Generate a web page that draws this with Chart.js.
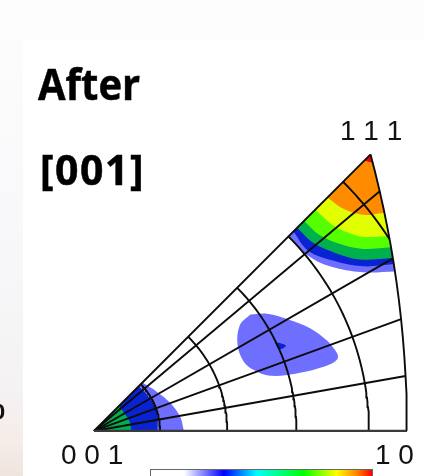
<!DOCTYPE html>
<html>
<head>
<meta charset="utf-8">
<script src="https://cdn.jsdelivr.net/npm/chart.js@4"></script>
<style>
  html, body { margin: 0; padding: 0; background: #fff; }
  #page { position: relative; width: 425px; height: 476px; overflow: hidden; background: #fff; }
  #topStrip { position: absolute; left: 0; top: 0; width: 425px; height: 40px; background: #fdfdfe; }
  #leftStrip { position: absolute; left: 0; top: 40px; width: 23px; height: 436px;
    background: linear-gradient(to bottom, #fcfcfd 0%, #f8f8fa 45%, #f4f2f3 80%, #f6ece8 92%, #efe4de 100%); }
  canvas { position: absolute; left: 0; top: 0; }
  .title { position: absolute; font: bold 43px "Open Sans", sans-serif; color: #000; line-height: 1; white-space: nowrap; -webkit-text-stroke: 0.5px #000; }
  .pole { position: absolute; font: 28px "Liberation Sans", sans-serif; color: #111; line-height: 1; white-space: pre; }
  #colorbar { position: absolute; left: 150px; top: 469px; width: 221px; height: 12px; border: 1px solid #666; }
</style>
</head>
<body>
<div id="page">
  <div id="topStrip"></div>
  <div id="leftStrip"></div>
  <canvas id="chart" width="425" height="476"></canvas>
  <div class="title" style="left:38px;top:62px;transform:scaleX(0.93);transform-origin:left">After</div>
  <div class="title" style="left:40px;top:149px;font-size:41px;letter-spacing:1.5px">[001]</div>
  <div class="pole" style="left:340px;top:117px">1 1 1</div>
  <div class="pole" style="left:61px;top:441px">0 0 1</div>
  <div class="pole" style="left:375px;top:441px">1 0</div>
  <div class="pole" style="left:-7px;top:397px;font:bold 21px 'Open Sans',sans-serif">0</div>
  <div id="colorbar"></div>
</div>
<script>
  // stereographic coordinates x 1000, [001] at the origin
  const apex = [366, 366];
  const pole101 = 414;

  const azimuthLines = [10, 20, 30, 40];
  const polarArcs = [10, 20, 30, 40, 50];

  // upper band edges, from the 45 degree side to the curved side
  const lightBlueTop = [[258, 258], [282, 233], [312, 218], [356, 210], [398, 211]];
  const blueTop = [[264, 264], [283, 239], [315, 226], [356, 218], [397, 221]];
  const greenTop = [[269, 269], [290, 249], [321, 235], [352, 227], [396, 229]];
  const limeTop = [[278, 278], [299, 259], [330, 246], [356, 241], [393, 243]];
  const yellowTop = [[293, 293], [315, 273], [335, 263], [356, 257], [391, 258]];
  const orangeTop = [[309, 309], [328, 295], [350, 287], [365, 286], [385, 289]];
  const redTop = [[358, 358], [369, 355]];

  // patches around 001
  const lightBlueCorner = [[64, 64], [83, 52], [101, 37], [114, 19], [119, 0]];
  const blueCorner = [[59, 59], [70, 48], [83, 26], [84, 0]];
  const greenCorner = [[33, 33], [42, 21], [48, 10], [49, 0]];

  // middle patch
  const lightBlueMiddle = [[207, 154], [229, 155], [259, 147], [286, 136], [308, 120], [319, 107], [323, 98], [319, 92],
    [304, 85], [273, 77], [233, 73], [211, 81], [198, 92], [190, 114], [193, 140]];
  const blueMiddle = [[239, 118], [254, 113], [245, 108]];

  const bandColors = {
    lightBlue: "#6e6eff",
    blue: "#0a23d2",
    green: "#00b04c",
    lime: "#55ff00",
    yellow: "#e1ff00",
    orange: "#ff8c00",
    red: "#f00000"
  };
  const barStops = [["#ffffff", 15], ["#0000ff", 33], ["#00ffff", 48], ["#00ff00", 69], ["#ffff00", 84], ["#ff8800", 93], ["#ff0000", 100]];

  document.getElementById("colorbar").style.background =
    `linear-gradient(to right, ${barStops.map(s => `${s[0]} ${s[1]}%`).join(", ")})`;

  const pts = list => list.map(p => ({ x: p[0], y: p[1] }));

  // the curved side is part of a circle of radius sqrt(2) around (-1, 0)
  const rightSide = () => {
    const out = [];
    for (let a = 0; a <= 15; a += 1) {
      const r = a * Math.PI / 180;
      out.push([-1000 + 1414.2 * Math.cos(r), 1414.2 * Math.sin(r)]);
    }
    return out;
  };

  const band = (edge, color) => {
    const last = edge[edge.length - 1];
    const side = rightSide().filter(p => p[1] > last[1] + 4);
    const first = edge[0];
    // doubled points keep the corners sharp with tension on
    const shape = [first, first, ...edge.slice(1, -1), last, last, ...side, apex, apex];
    return { data: pts(shape), backgroundColor: color, fill: "shape", tension: 0.35, borderWidth: 0 };
  };

  const corner = (edge, color) => {
    const first = edge[0], last = edge[edge.length - 1];
    const shape = [first, first, ...edge.slice(1, -1), last, last, [0, 0], [0, 0]];
    return { data: pts(shape), backgroundColor: color, fill: "shape", tension: 0.35, borderWidth: 0 };
  };

  const blob = (edge, color) => (
    { data: pts([...edge, edge[0]]), backgroundColor: color, fill: "shape", tension: 0.35, borderWidth: 0 }
  );

  const gridLine = (points, width = 1.9, color = "#0c0c0c") => (
    { data: pts(points), borderColor: color, borderWidth: width, fill: false, tension: 0 }
  );

  const radial = deg => {
    const r = deg * Math.PI / 180, c = Math.cos(r), s = Math.sin(r);
    const t = -1000 * c + Math.sqrt(1e6 * c * c + 1e6);
    return gridLine([[0, 0], [t * c, t * s]]);
  };

  const arc = deg => {
    const radius = 1000 * Math.tan(deg * Math.PI / 360);
    // arcs wider than the 101 pole start on the curved side
    let from = 0;
    if (radius > pole101) {
      const u = (1e6 - radius * radius) / 2000;
      from = Math.acos(u / radius) * 180 / Math.PI;
    }
    const out = [];
    for (let a = from; a <= 45; a += 1) {
      out.push([radius * Math.cos(a * Math.PI / 180), radius * Math.sin(a * Math.PI / 180)]);
    }
    const end = radius * Math.SQRT1_2;
    out.push([end, end]);
    return gridLine(out);
  };

  const layers = [
    band(lightBlueTop, bandColors.lightBlue),
    band(blueTop, bandColors.blue),
    band(greenTop, bandColors.green),
    band(limeTop, bandColors.lime),
    band(yellowTop, bandColors.yellow),
    band(orangeTop, bandColors.orange),
    band(redTop, bandColors.red),
    corner(lightBlueCorner, bandColors.lightBlue),
    corner(blueCorner, bandColors.blue),
    corner(greenCorner, bandColors.green),
    blob(lightBlueMiddle, bandColors.lightBlue),
    blob(blueMiddle, bandColors.blue),
    ...azimuthLines.map(radial),
    ...polarArcs.map(arc),
    gridLine(rightSide()),
    gridLine([[0, 0], apex]),
    gridLine([[0, 0], [pole101, 0]], 2.2, "#3a3a3a")
  ];

  new Chart(document.getElementById("chart"), {
    type: "scatter",
    data: {
      datasets: layers.map((d, i) => ({
        ...d, showLine: true, pointRadius: 0, clip: false, order: layers.length - i
      }))
    },
    options: {
      responsive: false,
      animation: false,
      layout: { padding: 0 },
      plugins: { legend: { display: false }, tooltip: { enabled: false } },
      scales: {
        x: { type: "linear", display: false, min: -124.4, max: 438.1 },
        y: { type: "linear", display: false, min: -59.6, max: 570.4 }
      }
    }
  });
</script>
</body>
</html>
